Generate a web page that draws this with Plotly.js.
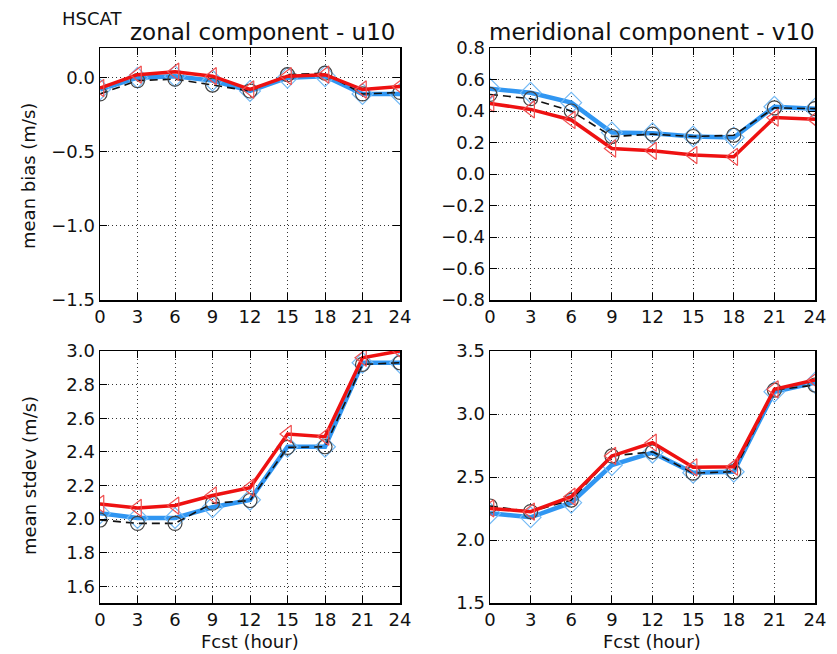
<!DOCTYPE html>
<html>
<head>
<meta charset="utf-8">
<script src="https://cdn.plot.ly/plotly-3.0.1.min.js"></script>
<style>
  html, body { margin: 0; padding: 0; background: #fff; }
  #chart { width: 837px; height: 654px; }
</style>
</head>
<body>
<div id="chart"></div>
<script>
// Forecast lead times (hours)
const fcstHours = [0, 3, 6, 9, 12, 15, 18, 21, 24];
const xTickLabels = ['0', '3', '6', '9', '12', '15', '18', '21', '24'];

// Mean bias, zonal wind u10 (m/s)
const biasU_black = [-0.11, -0.02, -0.01, -0.05, -0.09, 0.02, 0.03, -0.11, -0.10];
const biasU_blue  = [-0.08, 0.00, 0.01, -0.02, -0.09, 0.00, 0.01, -0.11, -0.11];
const biasU_red   = [-0.07, 0.02, 0.04, 0.01, -0.08, 0.01, 0.02, -0.08, -0.06];

// Mean bias, meridional wind v10 (m/s)
const biasV_black = [0.505, 0.478, 0.40, 0.238, 0.253, 0.238, 0.246, 0.42, 0.415];
const biasV_blue  = [0.541, 0.516, 0.453, 0.263, 0.259, 0.238, 0.232, 0.427, 0.415];
const biasV_red   = [0.448, 0.41, 0.343, 0.162, 0.147, 0.12, 0.109, 0.358, 0.347];

// Mean standard deviation, zonal wind u10 (m/s)
const sdU_black = [1.994, 1.974, 1.974, 2.094, 2.11, 2.426, 2.43, 2.92, 2.93];
const sdU_blue  = [2.034, 2.006, 2.006, 2.07, 2.114, 2.43, 2.43, 2.93, 2.93];
const sdU_red   = [2.09, 2.066, 2.08, 2.14, 2.186, 2.506, 2.49, 2.96, 3.0];

// Mean standard deviation, meridional wind v10 (m/s)
const sdV_black = [2.27, 2.225, 2.317, 2.667, 2.70, 2.53, 2.542, 3.19, 3.23];
const sdV_blue  = [2.212, 2.18, 2.296, 2.595, 2.693, 2.534, 2.542, 3.177, 3.249];
const sdV_red   = [2.251, 2.225, 2.344, 2.667, 2.772, 2.577, 2.582, 3.196, 3.27];

// Tick values for the y axes
const biasUTicks = [-1.5, -1.0, -0.5, 0.0];
const biasVTicks = [-0.8, -0.6, -0.4, -0.2, 0.0, 0.2, 0.4, 0.6, 0.8];
const sdUTicks = [1.6, 1.8, 2.0, 2.2, 2.4, 2.6, 2.8, 3.0];
const sdVTicks = [1.5, 2.0, 2.5, 3.0, 3.5];

const FONT = 'DejaVu Sans, sans-serif';

function series(y, xa, ya, kind) {
  const styles = {
    blue:  { line: { color: '#3096f2', width: 4.5 }, marker: { symbol: 'diamond-open', size: 16, color: '#74baf5', line: { width: 1.2 } } },
    black: { line: { color: '#111111', width: 1.6, dash: '8px,5px' }, marker: { symbol: 'circle-open', size: 14, color: '#444444', line: { width: 1.2 } } },
    red:   { line: { color: '#ee1111', width: 3.5 }, marker: { symbol: 'triangle-left-open', size: 15, color: '#f05050', line: { width: 1.2 } } }
  };
  return Object.assign({
    x: fcstHours, y: y, xaxis: xa, yaxis: ya, type: 'scatter',
    mode: 'lines+markers', showlegend: false, cliponaxis: true, hoverinfo: 'skip'
  }, styles[kind]);
}

const traces = [
  series(biasU_blue, 'x', 'y', 'blue'),
  series(biasU_black, 'x', 'y', 'black'),
  series(biasU_red, 'x', 'y', 'red'),
  series(biasV_blue, 'x2', 'y2', 'blue'),
  series(biasV_black, 'x2', 'y2', 'black'),
  series(biasV_red, 'x2', 'y2', 'red'),
  series(sdU_blue, 'x3', 'y3', 'blue'),
  series(sdU_black, 'x3', 'y3', 'black'),
  series(sdU_red, 'x3', 'y3', 'red'),
  series(sdV_blue, 'x4', 'y4', 'blue'),
  series(sdV_black, 'x4', 'y4', 'black'),
  series(sdV_red, 'x4', 'y4', 'red')
];

const W = 837, H = 654;
const leftDom = [100 / W, 400 / W];
const rightDom = [490 / W, 815 / W];
const topDom = [1 - 300 / H, 1 - 48 / H];
const botDom = [1 - 603 / H, 1 - 351 / H];

const common = {
  ticks: 'inside', ticklen: 7, tickwidth: 1, tickcolor: '#000',
  showline: true, linecolor: '#000', linewidth: 1.5, mirror: 'allticks',
  showgrid: true, gridcolor: '#333', gridwidth: 1, griddash: '1px,3px',
  zeroline: false, tickfont: { family: FONT, size: 18, color: '#111' },
  fixedrange: true
};

function xAxis(domain, anchor) {
  return Object.assign({
    domain: domain, anchor: anchor, range: [0, 24],
    tickmode: 'array', tickvals: fcstHours, ticktext: xTickLabels
  }, common);
}
function yAxis(domain, anchor, range, ticks) {
  return Object.assign({
    domain: domain, anchor: anchor, range: range,
    tickmode: 'array', tickvals: ticks,
    ticktext: ticks.map(v => v.toFixed(1).replace('-', '\u2212'))
  }, common);
}

const ann = (text, x, y, size, extra) => Object.assign({
  text: text, x: x, y: y, xref: 'paper', yref: 'paper', showarrow: false,
  font: { family: FONT, size: size, color: '#111' }
}, extra || {});

const layout = {
  width: W, height: H,
  margin: { l: 0, r: 0, t: 0, b: 0 },
  paper_bgcolor: '#fff', plot_bgcolor: '#fff',
  xaxis: xAxis(leftDom, 'y'),
  yaxis: yAxis(topDom, 'x', [-1.5, 0.2], biasUTicks),
  xaxis2: xAxis(rightDom, 'y2'),
  yaxis2: yAxis(topDom, 'x2', [-0.8, 0.8], biasVTicks),
  xaxis3: xAxis(leftDom, 'y3'),
  yaxis3: yAxis(botDom, 'x3', [1.5, 3.0], sdUTicks),
  xaxis4: xAxis(rightDom, 'y4'),
  yaxis4: yAxis(botDom, 'x4', [1.5, 3.5], sdVTicks),
  annotations: [
    ann('HSCAT', 60 / W, 1 - 18 / H, 18, { xanchor: 'left', yanchor: 'middle' }),
    ann('zonal component - u10', 262 / W, 1 - 32 / H, 23, { xanchor: 'center', yanchor: 'middle' }),
    ann('meridional component - v10', 652 / W, 1 - 32 / H, 23, { xanchor: 'center', yanchor: 'middle' }),
    ann('mean bias (m/s)', 29 / W, 1 - 176 / H, 18, { xanchor: 'center', yanchor: 'middle', textangle: -90 }),
    ann('mean stdev (m/s)', 29 / W, 1 - 476 / H, 18, { xanchor: 'center', yanchor: 'middle', textangle: -90 }),
    ann('Fcst (hour)', 250 / W, 1 - 641 / H, 18, { xanchor: 'center', yanchor: 'middle' }),
    ann('Fcst (hour)', 652 / W, 1 - 641 / H, 18, { xanchor: 'center', yanchor: 'middle' })
  ]
};

Plotly.newPlot('chart', traces, layout, { staticPlot: true, displayModeBar: false });
</script>
</body>
</html>
